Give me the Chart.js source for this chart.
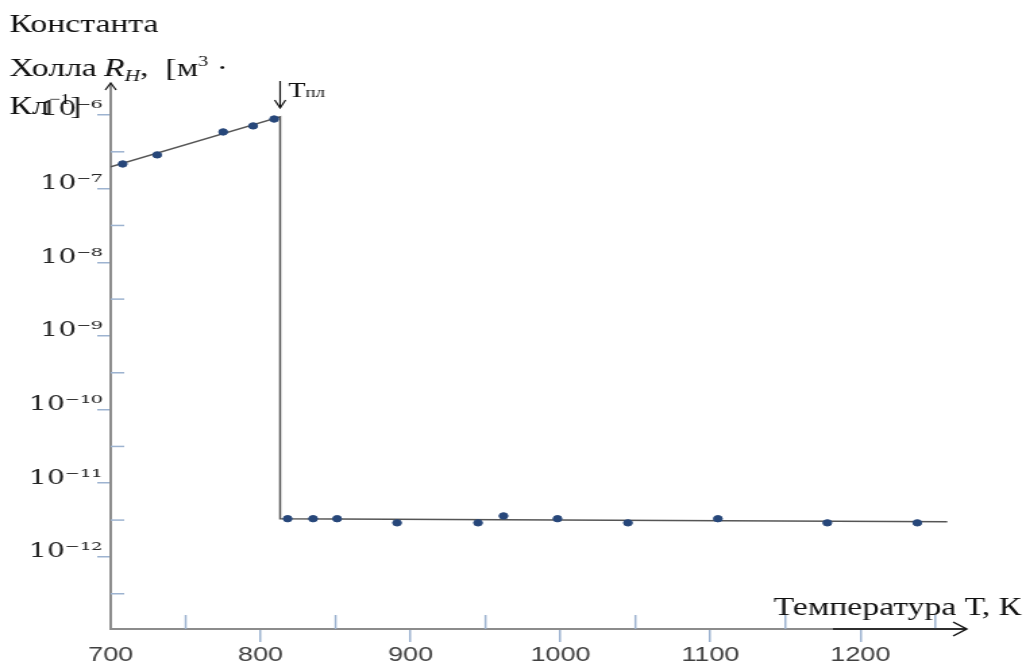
<!DOCTYPE html>
<html>
<head>
<meta charset="utf-8">
<script src="https://cdn.jsdelivr.net/npm/chart.js@4.4.0/dist/chart.umd.min.js"></script>
<style>
  html, body { margin: 0; padding: 0; background: #fff; }
</style>
</head>
<body>
<!-- the original picture is stretched sideways, so the canvas is too -->
<canvas id="hall" width="760" height="669" style="display:block;width:1026px;height:669px"></canvas>
<script>
// Hall constant vs temperature, solid below the melting point, melt above it
const solidTemps = [708, 731, 775, 795, 809];
const solidHall = [2.16e-7, 2.87e-7, 5.88e-7, 7.1e-7, 8.8e-7];
const liquidTemps = [818, 835, 851, 891, 945, 962, 998, 1045, 1105, 1178, 1238];
const liquidHall = [3.3e-12, 3.3e-12, 3.3e-12, 2.9e-12, 2.9e-12, 3.6e-12, 3.3e-12, 2.9e-12, 3.3e-12, 2.9e-12, 2.9e-12];

// trend line with the drop at the melting point
const fitTemps = [700, 813, 813, 1258];
const fitHall = [1.97e-7, 9.4e-7, 3.3e-12, 3.0e-12];
const meltTemp = 813;

const tempTicks = [700, 800, 900, 1000, 1100, 1200];
const tempMinorTicks = [750, 850, 950, 1050, 1150, 1250];
const hallTicks = [1e-6, 1e-7, 1e-8, 1e-9, 1e-10, 1e-11, 1e-12];
const hallTickLabels = ['10⁻⁶', '10⁻⁷', '10⁻⁸', '10⁻⁹', '10⁻¹⁰', '10⁻¹¹', '10⁻¹²'];
const hallMinorTicks = [3.16e-7, 3.16e-8, 3.16e-9, 3.16e-10, 3.16e-11, 3.16e-12, 3.16e-13];

const tickBlue = '#9db3d0';
const axisGray = '#8c8c8c';
const serif = "'Liberation Serif', 'Times New Roman', serif";

// draws a row of text pieces, each with its own font and vertical shift
function textRun(ctx, parts, x, y) {
    parts.forEach((p) => {
        ctx.font = p.font;
        if (p.x !== undefined) x = p.x;
        ctx.fillText(p.text, x, y + (p.dy || 0));
        x += ctx.measureText(p.text).width;
    });
}

function chevron(ctx, x, y, dx1, dy1, dx2, dy2) {
    ctx.beginPath();
    ctx.moveTo(x + dx1, y + dy1);
    ctx.lineTo(x, y);
    ctx.lineTo(x + dx2, y + dy2);
    ctx.stroke();
}

const decorations = {
    id: 'decorations',
    afterDraw(chart) {
        const { ctx } = chart;
        const x = chart.scales.x;
        const y = chart.scales.y;
        const left = chart.chartArea.left;
        const bottom = chart.chartArea.bottom;
        ctx.save();

        // minor ticks point into the plot
        ctx.strokeStyle = tickBlue;
        ctx.lineWidth = 1.5;
        tempMinorTicks.forEach((t) => {
            const px = x.getPixelForValue(t);
            ctx.beginPath();
            ctx.moveTo(px, bottom);
            ctx.lineTo(px, bottom - 14);
            ctx.stroke();
        });
        hallMinorTicks.forEach((v) => {
            const py = y.getPixelForValue(v);
            ctx.beginPath();
            ctx.moveTo(left, py);
            ctx.lineTo(left + 10, py);
            ctx.stroke();
        });

        // axis arrows
        ctx.strokeStyle = '#111';
        ctx.lineWidth = 1.2;
        chevron(ctx, left, chart.chartArea.top - 2, -4, 7, 4, 7);
        ctx.lineWidth = 1.5;
        ctx.beginPath();
        ctx.moveTo(617, bottom);
        ctx.lineTo(chart.chartArea.right + 1, bottom);
        ctx.stroke();
        chevron(ctx, chart.chartArea.right + 1, bottom, -10, -7, -10, 7);

        // melting point marker
        const mx = x.getPixelForValue(meltTemp);
        ctx.lineWidth = 1.2;
        ctx.beginPath();
        ctx.moveTo(mx, 81);
        ctx.lineTo(mx, 108);
        ctx.stroke();
        chevron(ctx, mx, 108, -4, -8, 4, -8);

        ctx.fillStyle = '#111';
        ctx.textAlign = 'left';
        ctx.textBaseline = 'alphabetic';
        textRun(ctx, [
            { text: 'Т', font: '21px ' + serif },
            { text: 'пл', font: '14px ' + serif, dy: 0 }
        ], mx + 6, 97);

        // axis titles
        ctx.font = '25px ' + serif;
        ctx.fillText('Константа', 7, 32);
        textRun(ctx, [
            { text: 'Холла ', font: '25px ' + serif },
            { text: 'R', font: 'italic 25px ' + serif, x: 77 },
            { text: 'H', font: 'italic 16px ' + serif, dy: 5 },
            { text: ',  [м', font: '25px ' + serif },
            { text: '3', font: '15px ' + serif, dy: -10 },
            { text: ' ·', font: '25px ' + serif }
        ], 7, 76);
        textRun(ctx, [
            { text: 'Кл', font: '25px ' + serif },
            { text: '−1', font: '15px ' + serif, dy: -10 },
            { text: ']', font: '25px ' + serif }
        ], 7, 114);

        ctx.font = '25px ' + serif;
        ctx.fillText('Температура Т, К', 573, 615);
        ctx.restore();
    }
};

new Chart(document.getElementById('hall'), {
    type: 'scatter',
    data: {
        datasets: [
            {
                label: 'fit',
                data: fitTemps.map((t, i) => ({ x: t, y: fitHall[i] })),
                showLine: true,
                borderColor: '#555',
                borderWidth: 1.5,
                pointRadius: 0,
                order: 2
            },
            {
                label: 'solid',
                data: solidTemps.map((t, i) => ({ x: t, y: solidHall[i] })),
                backgroundColor: '#27477a',
                borderColor: '#27477a',
                pointRadius: 3.2,
                order: 1
            },
            {
                label: 'melt',
                data: liquidTemps.map((t, i) => ({ x: t, y: liquidHall[i] })),
                backgroundColor: '#27477a',
                borderColor: '#27477a',
                pointRadius: 3.2,
                order: 1
            }
        ]
    },
    options: {
        responsive: false,
        animation: false,
        layout: {
            padding: { top: 85, right: 45, left: 0, bottom: 0 }
        },
        plugins: {
            legend: { display: false },
            tooltip: { enabled: false }
        },
        scales: {
            x: {
                type: 'linear',
                min: 700,
                max: 1270,
                afterBuildTicks: (scale) => {
                    scale.ticks = tempTicks.map((v) => ({ value: v }));
                },
                afterFit: (scale) => {
                    scale.height = 40;
                },
                grid: {
                    drawOnChartArea: false,
                    tickLength: 13,
                    lineWidth: 1.5,
                    color: (c) => (c.tick && c.tick.value === 700 ? 'rgba(0,0,0,0)' : tickBlue)
                },
                border: { color: axisGray, width: 2 },
                ticks: {
                    autoSkip: false,
                    maxRotation: 0,
                    padding: 1,
                    color: '#404040',
                    font: { family: "'Liberation Sans', Arial, sans-serif", size: 20 },
                    callback: (value) => String(value)
                }
            },
            y: {
                type: 'logarithmic',
                min: 1.05e-13,
                max: 2.55e-6,
                afterBuildTicks: (scale) => {
                    scale.ticks = hallTicks.map((v) => ({ value: v }));
                },
                afterFit: (scale) => {
                    scale.width = 82;
                },
                grid: {
                    drawOnChartArea: false,
                    tickLength: 10,
                    lineWidth: 1.5,
                    color: tickBlue
                },
                border: { color: axisGray, width: 2 },
                ticks: {
                    autoSkip: false,
                    padding: -4,
                    labelOffset: -5,
                    color: '#262626',
                    font: { family: "'DejaVu Serif', serif", size: 21 },
                    callback: (value) => hallTickLabels[hallTicks.indexOf(value)]
                }
            }
        }
    },
    plugins: [decorations]
});
</script>
</body>
</html>
